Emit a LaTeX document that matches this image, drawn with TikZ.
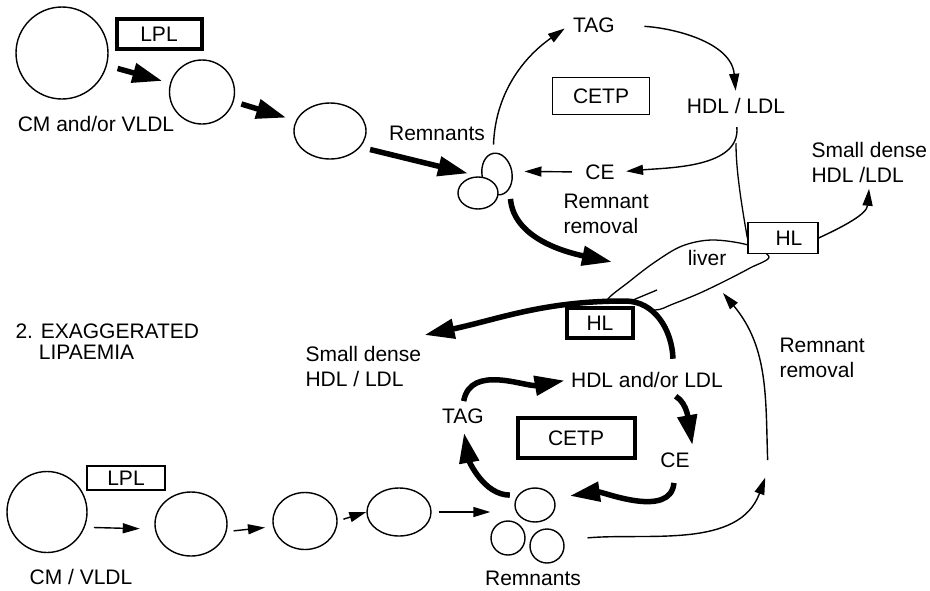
\documentclass[tikz,border=0pt]{standalone}
\usepackage{fontspec}
\setmainfont{Liberation Sans}
\usetikzlibrary{arrows.meta, shapes.geometric}
\tikzset{
    particle/.style={draw, ellipse, line width=1.4pt, inner sep=0pt}, % lipoprotein particles
    thinbox/.style={draw, line width=1.3pt, fill=white, inner sep=0pt}, % enzyme boxes
    thickbox/.style={draw, line width=4pt, fill=white, inner sep=0pt},
    thinarrow/.style={-{Triangle[length=17pt,width=10pt]}, line width=1.4pt}, % small arrows
    boldarrow/.style={-{Triangle[length=30pt,width=19pt]}, line width=5.5pt}, % heavy arrows
    link/.style={line width=1.3pt},
    every node/.style={font=\fontsize{21}{25}\selectfont},
}

\begin{document}
\begin{tikzpicture}[x=1pt, y=1pt]
\useasboundingbox (0,0) rectangle (930,-590);

% 1. normal response
\node[particle, minimum width=92pt, minimum height=92pt] (cm1) at (62,-53) {};
\node[thickbox, minimum width=85pt, minimum height=30pt] (lpl1) at (159,-34) {LPL};
\node (cmtext1) at (96,-124) {CM and/or VLDL};
\node[particle, minimum width=65pt, minimum height=64pt] (p1) at (202,-92) {};
\node[particle, minimum width=72pt, minimum height=56pt] (p2) at (330,-131) {};
\node (remtext1) at (437,-133) {Remnants};
\node[particle, minimum width=30pt, minimum height=42pt, rotate=10] (rem1) at (497,-174) {};
\node[particle, minimum width=40pt, minimum height=32pt, fill=white] (rem2) at (478,-193) {};
\node (tag1) at (594,-25) {TAG};
\node[thinbox, minimum width=97pt, minimum height=37pt] (cetp1) at (601,-96) {CETP};
\node (hdl1) at (736,-106) {HDL / LDL};
\node (ce1) at (600,-172) {CE};
\node[align=left, anchor=west] (rr1) at (560,-214) {Remnant\\removal};
\node[align=left, anchor=west] (sd1) at (808,-162) {Small dense\\HDL /LDL};

\draw[link, fill=white] plot[smooth cycle, tension=0.55] coordinates {(607,-301) (630,-281) (655,-262) (682,-246) (712,-240) (748,-245) (769,-257) (750,-268) (727,-280) (700,-293) (673,-304) (655,-310) (633,-303)};
\draw[link] (633,-300) -- (657,-290);
\coordinate (livertip) at (612,-262);
\coordinate (liverbot) at (723,-293);
\node (liver) at (707,-258) {liver};
\node[thinbox, minimum width=70pt, minimum height=31pt] (hl1) at (783,-238) {\hspace{12pt}HL};

\draw[boldarrow, shorten <=11pt, shorten >=8pt] (cm1) -- (p1);
\draw[boldarrow, shorten <=8pt, shorten >=10pt] (p1) -- (p2);
\draw[boldarrow, shorten <=10pt, shorten >=14pt] (p2.-28) -- (rem1.west);
\draw[thinarrow, shorten <=8pt, shorten >=6pt] (rem1.north) to[out=88, in=215] (tag1.west);
\draw[thinarrow, shorten <=26pt, shorten >=4pt] (tag1.east) to[out=-3, in=95] (hdl1.north);
\draw[thinarrow, shorten <=10pt, shorten >=8pt] (hdl1.south) to[out=-85, in=5] (ce1.east);
\draw[thinarrow, shorten <=10pt, shorten >=12pt] (ce1.west) -- (rem1.east);
\draw[link, shorten <=26pt] (hdl1.south) to[out=-90, in=100] (hl1.west);
\draw[thinarrow, shorten >=3pt] (hl1.east) to[out=25, in=-95] (sd1.south);
\draw[boldarrow, shorten <=10pt] (rem1.-60) to[out=-85, in=168] (livertip);

% 2. exaggerated lipaemia
\node[align=left, anchor=north west, font=\fontsize{21}{21}\selectfont] (title2) at (12,-320) {2. EXAGGERATED\\\phantom{2.~}LIPAEMIA};
\node[thickbox, minimum width=66pt, minimum height=30pt] (hl2) at (600,-323) {HL};
\node[align=left, anchor=west] (sd2) at (302,-366) {Small dense\\HDL / LDL};
\node (hdl2) at (647,-380) {HDL and/or LDL};
\node (tag2) at (463,-416) {TAG};
\node[thickbox, minimum width=117pt, minimum height=40pt] (cetp2) at (576,-438) {CETP};
\node (ce2) at (675,-460) {CE};
\node[particle, minimum width=40pt, minimum height=34pt] (rem3) at (535,-505) {};
\node[particle, minimum width=34pt, minimum height=34pt] (rem4) at (508,-538) {};
\node[particle, minimum width=34pt, minimum height=34pt] (rem5) at (547,-546) {};
\node (remtext2) at (533,-578) {Remnants};
\node[particle, minimum width=80pt, minimum height=81pt] (cm2) at (47,-512) {};
\node[thinbox, minimum width=78pt, minimum height=24pt] (lpl2) at (126,-478) {LPL};
\node (cmtext2) at (81,-577) {CM / VLDL};
\node[particle, minimum width=72pt, minimum height=64pt] (p3) at (191,-524) {};
\node[particle, minimum width=64pt, minimum height=57pt] (p4) at (305,-521) {};
\node[particle, minimum width=64pt, minimum height=48pt] (p5) at (399,-512) {};
\node[align=left, anchor=west] (rr2) at (776,-358) {Remnant\\removal};
\coordinate (hltop) at (625,-301);
\coordinate (rrbot) at (768,-470);

\draw[boldarrow, shorten >=6pt] ([xshift=26pt, yshift=10pt]hdl2.north) to[out=92, in=0] (hltop) to[out=180, in=12] ([xshift=-6pt, yshift=6pt]sd2.north east);
\draw[boldarrow, shorten <=4pt, shorten >=3pt] (tag2.north) to[out=80, in=190] (hdl2.west);
\draw[boldarrow, shorten <=10pt, shorten >=4pt] ([xshift=20pt]hdl2.south) to[out=-30, in=100] (ce2.north east);
\draw[boldarrow, shorten <=12pt, shorten >=16pt] (ce2.south) to[out=-95, in=8] (rem3.20);
\draw[boldarrow, shorten <=8pt, shorten >=6pt] (rem3.150) to[out=180, in=-80] (tag2.south);
\draw[thinarrow, shorten <=9pt, shorten >=15pt] (cm2.-22) -- (p3.188);
\draw[thinarrow, shorten <=7pt, shorten >=8pt] (p3.-12) -- (p4.190);
\draw[thinarrow, shorten <=6pt] (p4.east) -- (p5.west);
\draw[thinarrow, shorten <=7pt] (p5.east) -- (p5.east -| rem4.west);
\draw[thinarrow, shorten <=24pt, shorten >=8pt] (rem5.20) to[out=5, in=-110] (rrbot);
\draw[thinarrow, shorten <=10pt] (rrbot) to[out=92, in=-50] (liverbot);
\end{tikzpicture}
\end{document}
